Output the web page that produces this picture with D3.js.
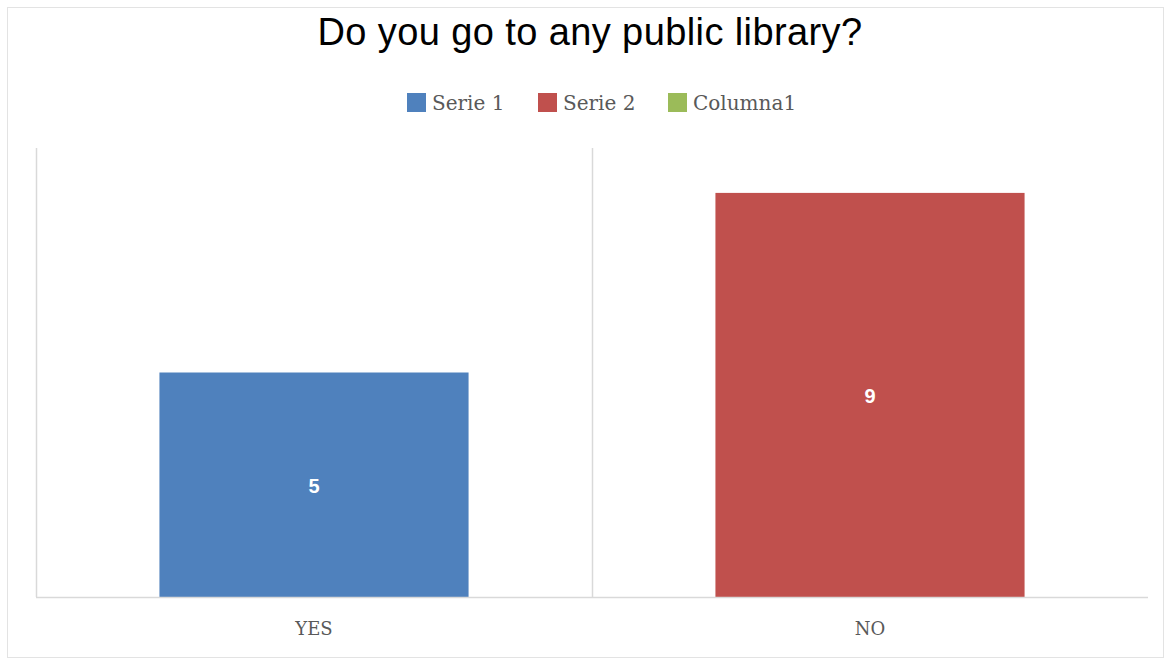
<!DOCTYPE html>
<html><head><meta charset="utf-8">
<script src="https://cdn.jsdelivr.net/npm/d3@7/dist/d3.min.js"></script>
<style>body{margin:0;background:#fff}</style>
</head><body>
<svg id="c" width="1174" height="666"></svg>
<script>
const title = "Do you go to any public library?";
const categories = ["YES", "NO"];
const seriesNames = ["Serie 1", "Serie 2", "Columna1"];
const seriesColors = ["#4F81BD", "#C0504D", "#9BBB59"];
const values = [5, 9];            // YES -> Serie 1, NO -> Serie 2
const valueSeries = [0, 1];
const yDomain = [0, 10];

const svg = d3.select("#c");
svg.append("rect").attr("x", 7.5).attr("y", 7.5).attr("width", 1156).attr("height", 650)
  .attr("fill", "#fff").attr("stroke", "#e3e3e3").attr("stroke-width", 1);

const L = 36, R = 1148, T = 148, B = 597;
const x = d3.scaleBand().domain(categories).range([L, R]).paddingInner(0.444).paddingOuter(0.222);
const xCat = d3.scaleBand().domain(categories).range([L, R]);
const y = d3.scaleLinear().domain(yDomain).range([B, T]);

// vertical gridlines (category boundaries)
const g = svg.append("g");
const bounds = [L].concat(categories.slice(1).map(c => xCat(c)));
g.selectAll("line.v").data(bounds).enter().append("line")
  .attr("x1", d => Math.round(d) + 0.5).attr("x2", d => Math.round(d) + 0.5)
  .attr("y1", T).attr("y2", B).attr("stroke", "#d9d9d9").attr("stroke-width", 1.5);

// bars
svg.selectAll("rect.bar").data(values).enter().append("rect")
  .attr("x", (d, i) => x(categories[i])).attr("width", x.bandwidth())
  .attr("y", d => y(d)).attr("height", d => y(0) - y(d))
  .attr("fill", (d, i) => seriesColors[valueSeries[i]]);

// baseline
svg.append("line").attr("x1", L).attr("x2", R).attr("y1", B + 0.5).attr("y2", B + 0.5)
  .attr("stroke", "#d9d9d9").attr("stroke-width", 1.5);

// data labels
svg.selectAll("text.lbl").data(values).enter().append("text")
  .attr("x", (d, i) => x(categories[i]) + x.bandwidth() / 2)
  .attr("y", d => (y(d) + y(0)) / 2 + 1)
  .attr("dy", "0.36em").attr("text-anchor", "middle")
  .attr("font-family", "Liberation Sans, Arial, sans-serif").attr("font-weight", "bold")
  .attr("font-size", 20).attr("fill", "#fff").text(d => d);

// x axis labels
svg.selectAll("text.cat").data(categories).enter().append("text")
  .attr("x", d => xCat(d) + xCat.bandwidth() / 2).attr("y", 635)
  .attr("text-anchor", "middle").attr("font-family", "DejaVu Serif, serif")
  .attr("font-size", 18).attr("fill", "#595959").text(d => d);

// title
svg.append("text").attr("x", 590).attr("y", 45).attr("text-anchor", "middle")
  .attr("font-family", "Liberation Sans, Arial, sans-serif").attr("font-size", 38)
  .attr("letter-spacing", 0.4).attr("fill", "#000").text(title);

// legend
const legX = [407, 538, 668];
const leg = svg.selectAll("g.leg").data(seriesNames).enter().append("g")
  .attr("transform", (d, i) => `translate(${legX[i]},93)`);
leg.append("rect").attr("width", 19).attr("height", 19).attr("fill", (d, i) => seriesColors[i]);
leg.append("text").attr("x", 25).attr("y", 17).attr("font-family", "DejaVu Serif, serif")
  .attr("font-size", 20).attr("fill", "#595959").text(d => d);
</script>
</body></html>
